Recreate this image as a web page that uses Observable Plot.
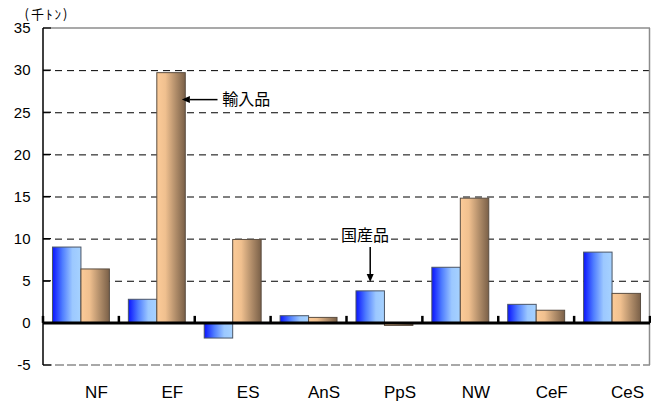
<!DOCTYPE html>
<html><head><meta charset="utf-8">
<script src="https://cdn.jsdelivr.net/npm/d3@7"></script>
<script src="https://cdn.jsdelivr.net/npm/@observablehq/plot@0.6"></script>
<style>body{margin:0;background:#fff} svg{display:block}</style>
</head><body><div id="chart"></div>
<script>
const categories = ["NF","EF","ES","AnS","PpS","NW","CeF","CeS"];
const seriesNames = ["国産品","輸入品"];
const domestic = [9.0, 2.8, -1.8, 0.85, 3.8, 6.6, 2.2, 8.4];
const imported = [6.4, 29.7, 9.9, 0.65, -0.3, 14.8, 1.5, 3.5];
const yTicks = [-5,0,5,10,15,20,25,30,35];
const gridValues = [5,10,15,20,25,30];
const unitLabel = "(千ﾄﾝ)";

const W = 651, H = 405, mL = 43, mR = 1, mT = 28, mB = 40;
const bw = (W - mL - mR) / categories.length;

const rows = [];
categories.forEach((c, i) => {
  rows.push({cat: c, series: seriesNames[0], value: domestic[i]});
  rows.push({cat: c, series: seriesNames[1], value: imported[i]});
});

function arrowPath(g, x1, y1, x2, y2) {
  const ang = Math.atan2(y2 - y1, x2 - x1), L = 8, hw = 3.5;
  const bx = x2 - L * Math.cos(ang), by = y2 - L * Math.sin(ang);
  g.append("line").attr("x1", x1).attr("y1", y1).attr("x2", bx).attr("y2", by)
    .attr("stroke", "#000").attr("stroke-width", 1.5);
  g.append("path").attr("d",
    `M${x2},${y2}L${bx - hw*Math.sin(ang)},${by + hw*Math.cos(ang)}L${bx + hw*Math.sin(ang)},${by - hw*Math.cos(ang)}Z`)
    .attr("fill", "#000");
}

function decorations(index, scales, values, dims) {
  const {x, y} = scales;
  const b = x.bandwidth ? x.bandwidth() : bw;
  const g = d3.create("svg:g");
  const x0 = dims.marginLeft, x1 = dims.width - dims.marginRight;
  const yT = y(35), yB = y(-5), y0 = y(0);
  g.append("line").attr("x1", x0).attr("x2", x1).attr("y1", yT).attr("y2", yT).attr("stroke", "#8c8c8c").attr("stroke-width", 1.5);
  g.append("line").attr("x1", x1 - 0.5).attr("x2", x1 - 0.5).attr("y1", yT).attr("y2", yB).attr("stroke", "#8c8c8c").attr("stroke-width", 1.5);
  g.append("line").attr("x1", x0).attr("x2", x1).attr("y1", yB).attr("y2", yB).attr("stroke", "#8c8c8c").attr("stroke-width", 1.5).attr("stroke-dasharray", "9,3");
  g.append("line").attr("x1", x0).attr("x2", x0).attr("y1", yT).attr("y2", yB).attr("stroke", "#000").attr("stroke-width", 1.5);
  yTicks.forEach(t => {
    g.append("line").attr("x1", x0).attr("x2", x0 + 8).attr("y1", y(t)).attr("y2", y(t)).attr("stroke", "#000").attr("stroke-width", 1.2);
  });
  g.append("line").attr("x1", x0).attr("x2", x1).attr("y1", y0).attr("y2", y0).attr("stroke", "#000").attr("stroke-width", 3);
  const bounds = categories.map(c => x(c)).concat([x(categories[categories.length - 1]) + b]);
  bounds.forEach(bx => {
    g.append("line").attr("x1", bx).attr("x2", bx).attr("y1", y0).attr("y2", y0 - 7).attr("stroke", "#000").attr("stroke-width", 2.5);
  });
  arrowPath(g, x("EF") + b * 1.3, y(26.5), x("EF") + b * 0.83, y(26.5));
  arrowPath(g, x("PpS") + b * 0.3125, y(9.0), x("PpS") + b * 0.3125, y(4.85));
  return g.node();
}

const font = "'Liberation Sans', Arial, 'Noto Sans CJK JP', sans-serif";

const chart = Plot.plot({
  width: W, height: H,
  marginLeft: mL, marginRight: mR, marginTop: mT, marginBottom: mB,
  style: {fontFamily: font, fontSize: "15px", background: "#fff", color: "#000", overflow: "visible"},
  x: {type: "band", domain: categories, padding: 0, round: false, label: null},
  y: {domain: [-5, 35], label: null},
  marks: [
    Plot.ruleY(gridValues, {stroke: "#000", strokeDasharray: "7,5", strokeWidth: 1}),
    Plot.barY(rows, {filter: d => d.series === seriesNames[0], x: "cat", y: "value",
      fill: "url(#gBlue)", stroke: "#4a5566", strokeWidth: 1, insetLeft: bw * 0.125, insetRight: bw * 0.5}),
    Plot.barY(rows, {filter: d => d.series === seriesNames[1], x: "cat", y: "value",
      fill: "url(#gTan)", stroke: "#5a4d40", strokeWidth: 1, insetLeft: bw * 0.5, insetRight: bw * 0.125}),
    decorations,
    Plot.axisY({ticks: yTicks, tickSize: 0, tickPadding: 13, tickFormat: d => String(d), fontSize: 15}),
    Plot.axisX({tickSize: 0, tickPadding: 20, fontSize: 17, dx: 15}),
    Plot.text([seriesNames[1]], {x: () => "EF", y: () => 26.5, text: d => d, dx: 65, textAnchor: "start",
      fontSize: 16, fontFamily: "'Noto Sans CJK JP', sans-serif"}),
    Plot.text([seriesNames[0]], {x: () => "PpS", y: () => 10.4, text: d => d, dx: -20,
      fontSize: 16, fontFamily: "'Noto Sans CJK JP', sans-serif", stroke: "#fff", strokeWidth: 4, fill: "#000", paintOrder: "stroke"}),
    Plot.text([unitLabel], {frameAnchor: "top-left", text: d => d, dx: -19, dy: -19, textAnchor: "start",
      fontSize: 13, fontFamily: "'Noto Sans CJK JP', sans-serif"})
  ]
});

d3.select(chart).selectAll("text").filter(function() { return this.textContent === unitLabel; })
  .attr("letter-spacing", "2px");

const defs = d3.select(chart).insert("defs", ":first-child");
const gb = defs.append("linearGradient").attr("id", "gBlue").attr("x1", 0).attr("x2", 1).attr("y1", 0).attr("y2", 0);
gb.append("stop").attr("offset", "0%").attr("stop-color", "#0a14ff");
gb.append("stop").attr("offset", "35%").attr("stop-color", "#4f7dff");
gb.append("stop").attr("offset", "70%").attr("stop-color", "#9cc8ff");
gb.append("stop").attr("offset", "100%").attr("stop-color", "#a6d2ff");
const gt = defs.append("linearGradient").attr("id", "gTan").attr("x1", 0).attr("x2", 1).attr("y1", 0).attr("y2", 0);
gt.append("stop").attr("offset", "0%").attr("stop-color", "#fccb98");
gt.append("stop").attr("offset", "30%").attr("stop-color", "#f0c08f");
gt.append("stop").attr("offset", "65%").attr("stop-color", "#b38f6b");
gt.append("stop").attr("offset", "100%").attr("stop-color", "#7a6048");

document.getElementById("chart").appendChild(chart);
</script>
</body></html>
